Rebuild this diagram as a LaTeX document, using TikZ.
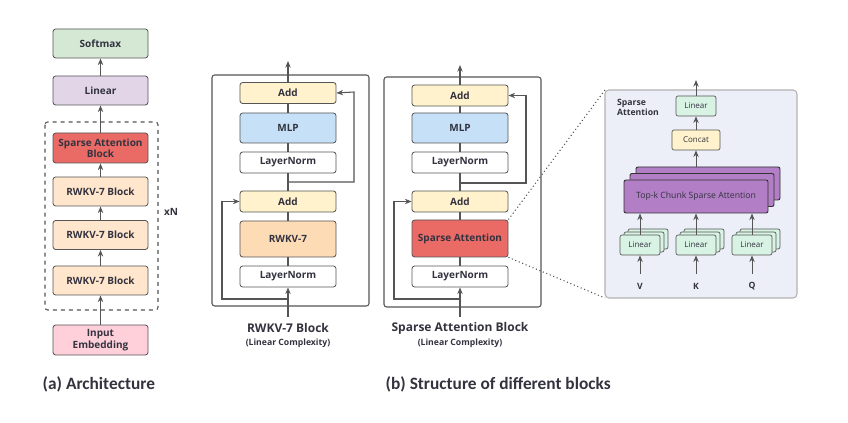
\documentclass[tikz,border=0pt]{standalone}
\usepackage{fontspec}
\setmainfont{Open Sans}
\newfontfamily\capfont{Carlito}
\usepackage{tikz}
\usetikzlibrary{arrows.meta,positioning,calc}

\definecolor{smaxc}{HTML}{D5E8D4}
\definecolor{linc}{HTML}{E1D5E7}
\definecolor{sparc}{HTML}{EA6B66}
\definecolor{rwkvc}{HTML}{FFE6CC}
\definecolor{embc}{HTML}{FFD0DA}
\definecolor{addc}{HTML}{FFF2CC}
\definecolor{mlpc}{HTML}{C5E0F7}
\definecolor{rwc}{HTML}{FDDCB5}
\definecolor{plinc}{HTML}{D8F3E4}
\definecolor{topkc}{HTML}{B27EC5}
\definecolor{panelc}{HTML}{EDEFF8}
\definecolor{edgec}{HTML}{555555}
\definecolor{txtc}{HTML}{333340}

\tikzset{
  blk/.style={draw=edgec, rounded corners=2pt, line width=0.6pt, align=center,
    text=txtc, font=\bfseries\fontsize{7.5}{8.5}\selectfont,
    minimum width=95*0.75pt, inner sep=0pt},
  thin blk/.style={blk, minimum height=21*0.75pt},
  mini/.style={draw=edgec, rounded corners=1.5pt, line width=0.5pt,
    text=txtc, font=\fontsize{6}{7}\selectfont, inner sep=0pt},
  arr/.style={-{Stealth[length=5pt,width=4pt]}, line width=0.8pt, draw=edgec},
  wire/.style={line width=0.8pt, draw=edgec},
}

\begin{document}
\begin{tikzpicture}[x=0.75pt,y=-0.75pt]
      \useasboundingbox (0,0) rectangle (848,423);

      % (a) architecture
      \node[blk,fill=smaxc,minimum height=29*0.75pt] (smax) at (100.5,43.5) {Softmax};
      \node[blk,fill=linc,minimum height=29*0.75pt] (lin) at (100.5,90.5) {Linear};
      \draw[dashed,line width=0.8pt,draw=edgec,rounded corners=2pt] (45,122) rectangle (158,310);
      \node[blk,fill=sparc,minimum height=30*0.75pt] (sab) at (100.5,148) {Sparse Attention\\Block};
      \node[blk,fill=rwkvc,minimum height=29*0.75pt] (rw1) at (100.5,191.5) {RWKV-7 Block};
      \node[blk,fill=rwkvc,minimum height=29*0.75pt] (rw2) at (100.5,235) {RWKV-7 Block};
      \node[blk,fill=rwkvc,minimum height=29*0.75pt] (rw3) at (100.5,280.5) {RWKV-7 Block};
      \node[blk,fill=embc,minimum height=30*0.75pt] (emb) at (100.5,340) {Input\\Embedding};
      \node[text=txtc,font=\bfseries\fontsize{7.5}{8.5}\selectfont] (xn) at (171,212) {xN};

      \draw[arr] (emb) -- (rw3);
      \draw[arr] (rw3) -- (rw2);
      \draw[arr] (rw2) -- (rw1);
      \draw[arr] (rw1) -- (sab);
      \draw[arr] (sab) -- (lin);
      \draw[arr] (lin) -- (smax);

      % (b) RWKV-7 block
      \draw[line width=0.8pt,draw=edgec,rounded corners=2pt] (212,75) rectangle (369,306);
      \node[thin blk,fill=addc,minimum width=96*0.75pt] (ra2) at (288,93) {Add};
      \node[blk,fill=mlpc,minimum width=96*0.75pt,minimum height=30*0.75pt] (rmlp) at (288,128) {MLP};
      \node[thin blk,fill=white,minimum width=96*0.75pt] (rln2) at (288,162.5) {LayerNorm};
      \node[thin blk,fill=addc,minimum width=96*0.75pt] (ra1) at (288,201.5) {Add};
      \node[blk,fill=rwc,minimum width=96*0.75pt,minimum height=36*0.75pt] (rmix) at (288,239) {RWKV-7};
      \node[thin blk,fill=white,minimum width=96*0.75pt] (rln1) at (288,276.5) {LayerNorm};
      \coordinate (rin) at (288,317);
      \coordinate (rout) at (288,61);

      \draw[arr] (rin) -- (rln1);
      \draw[wire] (rln1) -- (rmix);
      \draw[wire] (rmix) -- (ra1);
      \draw[wire] (ra1) -- (rln2);
      \draw[wire] (rln2) -- (rmlp);
      \draw[wire] (rmlp) -- (ra2);
      \draw[arr] (ra2) -- (rout);
      \draw[arr] (288,299) -- (222,299) -- (222,201.5) -- (ra1.west);
      \draw[arr] (288,182) -- (354,182) -- (354,92) -- (ra2.east);

      \node[text=txtc,font=\bfseries\fontsize{9}{11}\selectfont] (rname) at (288,328) {RWKV-7 Block};
      \node[text=txtc,font=\bfseries\fontsize{6.5}{7.5}\selectfont] (rcomp) at (288,343) {(Linear Complexity)};

      % (b) sparse attention block
      \draw[line width=0.8pt,draw=edgec,rounded corners=2pt] (384,77) rectangle (541,307);
      \node[thin blk,fill=addc,minimum width=96*0.75pt] (sa2) at (460,95.5) {Add};
      \node[blk,fill=mlpc,minimum width=96*0.75pt,minimum height=30*0.75pt] (smlp) at (460,128) {MLP};
      \node[thin blk,fill=white,minimum width=96*0.75pt] (sln2) at (460,162.5) {LayerNorm};
      \node[thin blk,fill=addc,minimum width=96*0.75pt] (sa1) at (460,201.5) {Add};
      \node[blk,fill=sparc,minimum width=96*0.75pt,minimum height=37*0.75pt] (sattn) at (460,238.5) {Sparse Attention};
      \node[thin blk,fill=white,minimum width=96*0.75pt] (sln1) at (460,276.5) {LayerNorm};
      \coordinate (sin) at (460,317);
      \coordinate (sout) at (460,65);

      \draw[arr] (sin) -- (sln1);
      \draw[wire] (sln1) -- (sattn);
      \draw[wire] (sattn) -- (sa1);
      \draw[wire] (sa1) -- (sln2);
      \draw[wire] (sln2) -- (smlp);
      \draw[wire] (smlp) -- (sa2);
      \draw[arr] (sa2) -- (sout);
      \draw[arr] (460,299) -- (394,299) -- (394,201.5) -- (sa1.west);
      \draw[arr] (460,183) -- (526,183) -- (526,95.5) -- (sa2.east);

      \node[text=txtc,font=\bfseries\fontsize{9}{11}\selectfont] (sname) at (460,328) {Sparse Attention Block};
      \node[text=txtc,font=\bfseries\fontsize{6.5}{7.5}\selectfont] (scomp) at (460,343) {(Linear Complexity)};

      % zoomed sparse attention
      \draw[fill=panelc,draw=gray!60,line width=0.8pt,rounded corners=3pt] (605,90) rectangle (797,298);
      \coordinate (ptl) at (605,90);
      \coordinate (pbl) at (605,298);
      \draw[dotted,line width=0.8pt,draw=edgec] (sattn.north east) -- (ptl);
      \draw[dotted,line width=0.8pt,draw=edgec] (sattn.south east) -- (pbl);
      \node[text=txtc,font=\bfseries\fontsize{6.5}{7.5}\selectfont,align=left] (ptitle) at (638,107) {Sparse\\Attention};

      \node[mini,fill=plinc,minimum width=40*0.75pt,minimum height=20*0.75pt] (plin) at (696,106) {Linear};
      \node[mini,fill=addc,minimum width=48*0.75pt,minimum height=20*0.75pt] (cat) at (696,140) {Concat};
      \foreach \i in {2,1} {
        \node[mini,fill=topkc,draw=black!80,line width=0.7pt,minimum width=144*0.75pt,minimum height=33*0.75pt] (tk\i) at (696+6*\i,196.5-6.5*\i) {};
      }
      \node[mini,fill=topkc,draw=black!80,line width=0.7pt,minimum width=144*0.75pt,minimum height=33*0.75pt,font=\fontsize{6.5}{7.5}\selectfont] (tk) at (696,196.5) {Top-k Chunk Sparse Attention};

      \foreach \nm/\x/\lb in {v/640/V,k/696/K,q/752/Q} {
        \foreach \j in {2,1} {
          \node[mini,fill=plinc,minimum width=40*0.75pt,minimum height=20*0.75pt] (l\nm\j) at (\x+4*\j,245-3*\j) {};
        }
        \node[mini,fill=plinc,minimum width=40*0.75pt,minimum height=20*0.75pt] (l\nm) at (\x,245) {Linear};
        \node[text=txtc,font=\bfseries\fontsize{6.5}{7.5}\selectfont] (in\nm) at (\x,286) {\lb};
        \draw[arr,line width=0.7pt] (\x,274) -- (l\nm);
        \draw[arr,line width=0.7pt] (l\nm) -- (tk.south -| l\nm);
      }

      \draw[arr,line width=0.7pt] (tk2.north -| cat) -- (cat);
      \draw[arr,line width=0.7pt] (cat) -- (plin);
      \coordinate (pout) at (696,80);
      \draw[arr,line width=0.7pt] (plin) -- (pout);

      % captions
      \node[anchor=west,text=txtc,font=\capfont\bfseries\fontsize{13}{15}\selectfont] (capa) at (38,384) {(a) Architecture};
      \node[anchor=west,text=txtc,font=\capfont\bfseries\fontsize{13}{15}\selectfont] (capb) at (381,384) {(b) Structure of different blocks};
    \end{tikzpicture}
\end{document}
